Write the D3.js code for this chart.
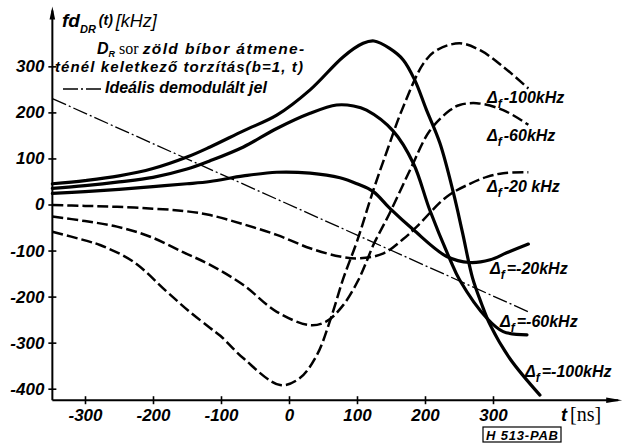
<!DOCTYPE html>
<html><head><meta charset="utf-8">
<script src="https://cdn.jsdelivr.net/npm/d3@7"></script>
<style>
body{margin:0;background:#fff;}
svg{display:block;font-family:"Liberation Sans",Arial,sans-serif;}
</style></head><body>
<svg id="c" width="632" height="448"></svg>
<script>
// ---- data (t in ns, f in kHz) ----
const xTicks = [-300, -200, -100, 0, 100, 200, 300];
const yTicks = [-400, -300, -200, -100, 0, 100, 200, 300];

// solid curves: Δf = -20, -60, -100 kHz
const solidM20 = [[-348,24],[-300,28],[-250,33],[-200,39],[-150,45],[-116,50],[-67,62],[-18,70],[31,68],[75,58],[100,45],[124,28],[148,-8],[183,-55],[232,-113],[266,-126],[296,-120],[320,-105],[352,-86]];
const solidM60 = [[-348,35],[-300,41],[-250,49],[-200,59],[-150,77],[-116,95],[-67,125],[-18,165],[31,198],[70,216],[95,214],[114,205],[153,160],[183,89],[207,-12],[237,-120],[251,-164],[291,-247],[315,-276],[350,-283]];
const solidM100 = [[-348,45],[-300,52],[-250,62],[-200,78],[-150,103],[-116,125],[-67,160],[-18,194],[31,249],[80,321],[109,350],[125,355],[148,339],[168,314],[185,270],[202,206],[222,133],[242,24],[255,-60],[270,-160],[283,-215],[296,-262],[325,-335],[369,-414]];

// dashed curves: Δf = 20, 60, 100 kHz
const dashP20 = [[-348,-1],[-300,-3],[-253,-5],[-200,-9],[-155,-14],[-116,-23],[-67,-43],[-18,-66],[31,-95],[75,-113],[104,-117],[139,-106],[168,-75],[188,-48],[232,17],[266,45],[291,60],[315,68],[352,70]];
const dashP60 = [[-348,-26],[-300,-36],[-253,-48],[-204,-70],[-155,-104],[-116,-131],[-67,-175],[-18,-233],[31,-262],[55,-254],[80,-218],[102,-164],[114,-124],[124,-88],[148,-19],[178,75],[207,160],[237,205],[251,216],[276,220],[315,205],[352,173]];
const dashP100 = [[-348,-59],[-300,-78],[-278,-88],[-229,-124],[-180,-189],[-146,-233],[-116,-268],[-101,-285],[-67,-334],[-13,-392],[16,-377],[41,-327],[60,-254],[80,-160],[100,-80],[124,31],[145,120],[166,205],[198,307],[217,335],[251,350],[281,335],[315,299],[352,252]];

// ideal demodulated signal (dash-dot)
const ideal = [[-348,230],[355,-235]];

// right-hand labels
const labelNames = ["-100kHz","-60kHz","-20 kHz","=-20kHz","=-60kHz","=-100kHz"];

// ---- drawing ----
const svg = d3.select("#c");
const x = d3.scaleLinear().domain([-300,300]).range([85,493]);
const y = d3.scaleLinear().domain([-400,300]).range([388.7,66.35]);
const t0 = -348, fBottom = -425;
const X0 = x(t0), Y0 = y(fBottom);

const line = d3.line().x(d=>x(d[0])).y(d=>y(d[1])).curve(d3.curveCatmullRom.alpha(0.5));

// axes
const gy = svg.append("g").attr("transform",`translate(${X0},0)`)
  .call(d3.axisLeft(y).tickValues(yTicks).tickFormat(d=>String(d)).tickSizeInner(4).tickSizeOuter(0).tickPadding(4));
gy.select(".domain").remove();
gy.selectAll(".tick line").attr("x1",4).attr("x2",-4).attr("stroke","#000").attr("stroke-width",1.6);
gy.selectAll(".tick text").attr("font-size",17).attr("font-weight","bold").attr("font-style","italic").attr("fill","#000").attr("font-family","Liberation Sans, Arial, sans-serif");

const gx = svg.append("g").attr("transform",`translate(0,${Y0})`)
  .call(d3.axisBottom(x).tickValues(xTicks).tickFormat(d=>String(d)).tickSizeInner(4).tickSizeOuter(0).tickPadding(5));
gx.select(".domain").remove();
gx.selectAll(".tick line").attr("y1",-4).attr("y2",4).attr("stroke","#000").attr("stroke-width",1.6);
gx.selectAll(".tick text").attr("font-size",17).attr("font-weight","bold").attr("font-style","italic").attr("fill","#000").attr("font-family","Liberation Sans, Arial, sans-serif");

// axis lines with arrows
const yTop = y(430), xEnd = x(490);
svg.append("line").attr("x1",X0).attr("y1",Y0).attr("x2",X0).attr("y2",yTop+4).attr("stroke","#000").attr("stroke-width",2);
svg.append("path").attr("d",`M${X0},${yTop} L${X0-2.8},${yTop+13} L${X0+2.8},${yTop+13} Z`).attr("fill","#000");
svg.append("line").attr("x1",X0).attr("y1",Y0).attr("x2",xEnd-4).attr("y2",Y0).attr("stroke","#000").attr("stroke-width",2);
svg.append("path").attr("d",`M${xEnd},${Y0} L${xEnd-16},${Y0-2.8} L${xEnd-16},${Y0+2.8} Z`).attr("fill","#000");

// curves
svg.append("path").attr("d",line(ideal)).attr("fill","none").attr("stroke","#000").attr("stroke-width",1.3).attr("stroke-dasharray","15,3,2,3");
[dashP20,dashP60,dashP100].forEach(s=>{
  svg.append("path").attr("d",line(s)).attr("fill","none").attr("stroke","#000").attr("stroke-width",2.5).attr("stroke-dasharray","11,4");
});
[solidM20,solidM60,solidM100].forEach(s=>{
  svg.append("path").attr("d",line(s)).attr("fill","none").attr("stroke","#000").attr("stroke-width",3.2).attr("stroke-linecap","round");
});

// header texts
const hdr = svg.append("text").attr("x",62).attr("y",27).attr("font-style","italic").attr("font-weight","bold").attr("fill","#000");
hdr.append("tspan").attr("font-size",19).text("fd");
hdr.append("tspan").attr("font-size",11).attr("dy",6).text("DR");
hdr.append("tspan").attr("font-size",14).attr("dy",-8).attr("dx",3).text("(t)");
hdr.append("tspan").attr("font-size",18).attr("dy",2).attr("dx",3).attr("font-weight","normal").text("[kHz]");

const l2 = svg.append("text").attr("x",97).attr("y",54).attr("fill","#000").attr("font-size",15.5);
l2.append("tspan").attr("font-style","italic").attr("font-weight","bold").attr("font-size",16).text("D");
l2.append("tspan").attr("font-style","italic").attr("font-weight","bold").attr("font-size",9).attr("dy",2.5).text("R");
l2.append("tspan").attr("dy",-2.5).attr("font-family","Liberation Serif, serif").attr("font-size",16).text(" sor ");
l2.append("tspan").attr("font-style","italic").attr("font-weight","bold").attr("letter-spacing",1.4).text("zöld bíbor átmene-");

svg.append("text").attr("x",55).attr("y",72).attr("fill","#000").attr("font-size",15)
  .attr("font-style","italic").attr("font-weight","bold").attr("letter-spacing",1.1).text("ténél keletkező torzítás(b=1, t)");

svg.append("line").attr("x1",63).attr("x2",103).attr("y1",89).attr("y2",89).attr("stroke","#000").attr("stroke-width",1.3).attr("stroke-dasharray","15,3,2,3");
svg.append("text").attr("x",105).attr("y",93).attr("fill","#000").attr("font-size",16)
  .attr("font-style","italic").attr("font-weight","bold").text("Ideális demodulált jel");

// right labels
const labPos = [[487,103],[487,141],[487,192],[490,274],[500,327],[525,377]];
labelNames.forEach((s,i)=>{
  const t = svg.append("text").attr("x",labPos[i][0]).attr("y",labPos[i][1]).attr("fill","#000")
    .attr("font-style","italic").attr("font-weight","bold").attr("font-size",16);
  t.append("tspan").text("Δ");
  t.append("tspan").attr("font-size",12).attr("dy",5).text("f");
  t.append("tspan").attr("dy",-5).attr("dx",2).text(s);
});

// x axis unit
const tl = svg.append("text").attr("x",561).attr("y",421).attr("fill","#000");
tl.append("tspan").attr("font-style","italic").attr("font-weight","bold").attr("font-size",18).text("t");
tl.append("tspan").attr("dx",3).attr("font-family","Liberation Serif, serif").attr("font-size",20).text("[ns]");

// stamp
svg.append("rect").attr("x",483).attr("y",427).attr("width",78).attr("height",15).attr("fill","none").attr("stroke","#000").attr("stroke-width",1.2);
svg.append("text").attr("x",486).attr("y",439.5).attr("fill","#000").attr("font-size",13).attr("font-weight","bold").attr("font-style","italic")
  .attr("textLength",72).attr("lengthAdjust","spacing").text("H 513-PAB");
</script>
</body></html>
